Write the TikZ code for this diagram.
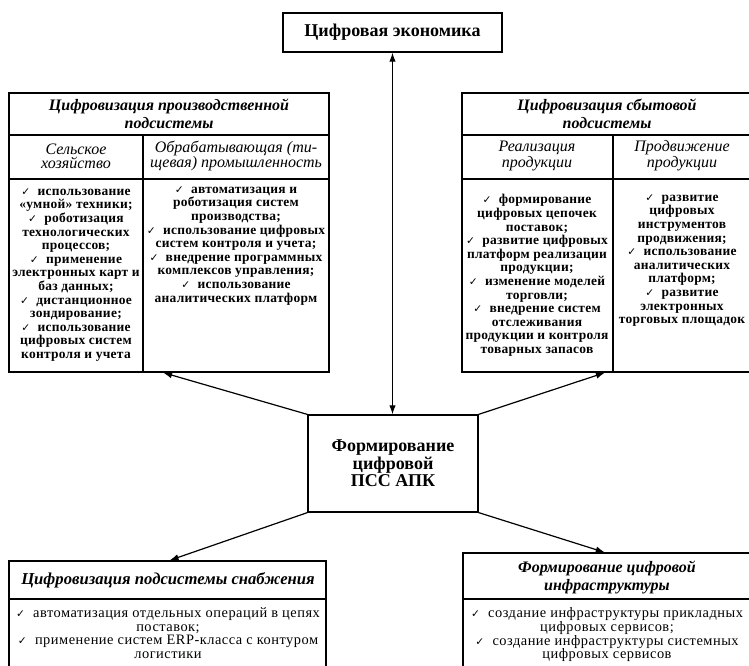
\documentclass[tikz,border=0pt]{standalone}
\usepackage{fontspec}
\setmainfont{Liberation Serif}
\newfontfamily\widefont[LetterSpace=3.5]{Liberation Serif}
\newfontfamily\itemfont[LetterSpace=2]{Liberation Serif}
\newfontfamily\dejavu{DejaVu Sans}
\usetikzlibrary{arrows.meta, fit}
\newcommand{\ck}{{\dejavu\fontsize{8}{8}\selectfont ✓}\ \ }
\tikzset{
  every picture/.style={line width=0.9pt},
  frame/.style={draw, inner sep=0pt},
  arrow/.style={-{Latex[length=2.4mm, width=1.7mm]}, line width=0.9pt},
  dblarrow/.style={{Latex[length=2.4mm, width=1.7mm]}-{Latex[length=2.4mm, width=1.7mm]}, line width=0.9pt},
  hdr/.style={font=\fontsize{12}{13.5}\selectfont\bfseries\itshape, align=center, inner sep=0pt},
  sub/.style={font=\fontsize{12}{10.5}\selectfont\itshape, align=center, inner sep=0pt},
  item/.style={font=\itemfont\fontsize{10.1}{10.2}\selectfont\bfseries, align=center, inner sep=0pt, anchor=north},
  plain/.style={font=\widefont\fontsize{10.8}{10.3}\selectfont, align=center, inner sep=0pt, anchor=north},
}

\begin{document}
\begin{tikzpicture}[x=0.75pt, y=-0.75pt,
  main/.style={draw, align=center, font=\fontsize{13.5}{11.8}\selectfont\bfseries}]
  \clip (0,0) rectangle (749,666);
  % ---------- top and centre
  \node[main, minimum width=164.25pt, minimum height=29.25pt] (econ) at (392.5,32.5) {Цифровая экономика};
  \node[main, minimum width=127.5pt, minimum height=72.75pt] (center) at (393,463.5) {Формирование\\цифровой\\ПСС АПК};
  % ---------- production subsystem
  \node[frame, fit={(9,93) (329,372)}] (prod) {};
  \draw (9,135) -- (329,135);
  \draw (9,179) -- (329,179);
  \draw (143,135) -- (143,372);
  \node[hdr] (prodT) at (169,114) {Цифровизация производственной\\подсистемы};
  \node[sub] (prodS1) at (76,156) {Сельское\\хозяйство};
  \node[sub] (prodS2) at (236,156) {Обрабатывающая (ти-\\щевая) промышленность};
  \node[item] (prodL) at (76,188) {\ck использование\\«умной» техники;\\\ck роботизация\\технологических\\процессов;\\\ck применение\\электронных карт и\\баз данных;\\\ck дистанционное\\зондирование;\\\ck использование\\цифровых систем\\контроля и учета};
  \node[item] (prodR) at (236,186) {\ck автоматизация и\\роботизация систем\\производства;\\\ck использование цифровых\\систем контроля и учета;\\\ck внедрение программных\\комплексов управления;\\\ck использование\\аналитических платформ};
  % ---------- sales subsystem
  \node[frame, fit={(462,93) (752,372)}] (sales) {};
  \draw (462,135) -- (752,135);
  \draw (462,179) -- (752,179);
  \draw (613,135) -- (613,372);
  \node[hdr] (salesT) at (607,114) {Цифровизация сбытовой\\подсистемы};
  \node[sub] (salesS1) at (537,156) {Реализация\\продукции};
  \node[sub] (salesS2) at (682,156) {Продвижение\\продукции};
  \node[item] (salesL) at (537,194) {\ck формирование\\цифровых цепочек\\поставок;\\\ck развитие цифровых\\платформ реализации\\продукции;\\\ck изменение моделей\\торговли;\\\ck внедрение систем\\отслеживания\\продукции и контроля\\товарных запасов};
  \node[item] (salesR) at (682,194) {\ck развитие\\цифровых\\инструментов\\продвижения;\\\ck использование\\аналитических\\платформ;\\\ck развитие\\электронных\\торговых площадок};
  % ---------- supply subsystem
  \node[frame, fit={(9,561) (326,700)}] (supply) {};
  \draw (9,599) -- (326,599);
  \node[hdr, font=\fontsize{12.5}{13.5}\selectfont\bfseries\itshape] (supplyT) at (168,580) {Цифровизация подсистемы снабжения};
  \node[plain] (supplyL) at (168,607) {\ck автоматизация отдельных операций в цепях\\поставок;\\\ck применение систем ERP-класса с контуром\\логистики};
  % ---------- infrastructure
  \node[frame, fit={(463,553) (752,700)}] (infra) {};
  \draw (463,599) -- (752,599);
  \node[hdr] (infraT) at (607,577) {Формирование цифровой\\инфраструктуры};
  \node[plain] (infraL) at (607,607) {\ck создание инфраструктуры прикладных\\цифровых сервисов;\\\ck создание инфраструктуры системных\\цифровых сервисов};
  % ---------- connectors
  \draw[dblarrow] (econ.south) -- (econ.south |- center.north);
  \draw[arrow] (center.north west) -- ([xshift=-4.5pt]prod.south);
  \draw[arrow] (center.north east) -- ([xshift=-1.5pt]sales.south);
  \draw[arrow] (center.south west) -- ([xshift=1.5pt]supply.north);
  \draw[arrow] (center.south east) -- ([xshift=-2pt]infra.north);
\end{tikzpicture}
\end{document}
